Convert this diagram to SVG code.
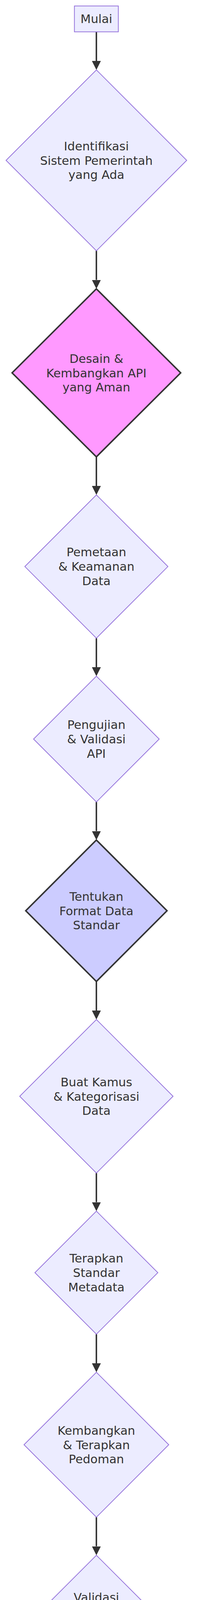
<svg xmlns="http://www.w3.org/2000/svg" width="510" height="4582" viewBox="0 0 510 4582">
<style>
  .node { fill: #ECECFF; stroke: #9370DB; stroke-width: 1.9; }
  .pink { fill: #FF99FF; stroke: #333333; stroke-width: 3.8; }
  .blue { fill: #CCCCFF; stroke: #333333; stroke-width: 3.8; }
  .lbl { font-family: "DejaVu Sans", "Noto Sans", sans-serif; font-size: 30.5px; fill: #333333; text-anchor: middle; }
  .edge { stroke: #333333; stroke-width: 3.8; fill: none; }
</style>
<defs>
  <marker id="arrow" viewBox="0 0 10 10" refX="0" refY="5" markerUnits="userSpaceOnUse" markerWidth="23" markerHeight="23" orient="auto">
    <path d="M0,0 L10,5 L0,10 z" fill="#333333"/>
  </marker>
</defs>
<rect width="510" height="4582" fill="#ffffff"/>
<g id="connectors">
  <path class="edge" d="M247,81.5 L247,156" marker-end="url(#arrow)"/>
  <path class="edge" d="M247,642 L247,716.5" marker-end="url(#arrow)"/>
  <path class="edge" d="M247,1169.5 L247,1244" marker-end="url(#arrow)"/>
  <path class="edge" d="M247,1633.6 L247,1708" marker-end="url(#arrow)"/>
  <path class="edge" d="M247,2053 L247,2127.5" marker-end="url(#arrow)"/>
  <path class="edge" d="M247,2512.5 L247,2587" marker-end="url(#arrow)"/>
  <path class="edge" d="M247,3003 L247,3077.5" marker-end="url(#arrow)"/>
  <path class="edge" d="M247,3415.5 L247,3490" marker-end="url(#arrow)"/>
  <path class="edge" d="M247,3884 L247,3958.5" marker-end="url(#arrow)"/>
  <path class="edge" d="M247,4269.5 L247,4344" marker-end="url(#arrow)"/>
</g>
<g id="mulai">
  <rect class="node" x="190.7" y="15.3" width="112.6" height="66.2"/>
  <text class="lbl" x="247" y="59.3">Mulai</text>
</g>
<g id="identifikasi">
  <polygon class="node" points="247,179 478.5,410.5 247,642 15.5,410.5"/>
  <text class="lbl" x="247" y="384.5">Identifikasi</text>
  <text class="lbl" x="247" y="421.5">Sistem Pemerintah</text>
  <text class="lbl" x="247" y="458">yang Ada</text>
</g>
<g id="desain">
  <polygon class="pink" points="247,739.5 463,954.5 247,1169.5 31,954.5"/>
  <text class="lbl" x="247" y="928.5">Desain &amp;</text>
  <text class="lbl" x="247" y="965.5">Kembangkan API</text>
  <text class="lbl" x="247" y="1002">yang Aman</text>
</g>
<g id="pemetaan">
  <polygon class="node" points="247,1267 430.3,1450.3 247,1633.6 63.7,1450.3"/>
  <text class="lbl" x="247" y="1424.3">Pemetaan</text>
  <text class="lbl" x="247" y="1461.3">&amp; Keamanan</text>
  <text class="lbl" x="247" y="1498">Data</text>
</g>
<g id="pengujian">
  <polygon class="node" points="247,1731 408,1892 247,2053 86,1892"/>
  <text class="lbl" x="247" y="1866">Pengujian</text>
  <text class="lbl" x="247" y="1903">&amp; Validasi</text>
  <text class="lbl" x="247" y="1939.7">API</text>
</g>
<g id="format">
  <polygon class="blue" points="247,2150.5 428,2331.5 247,2512.5 66,2331.5"/>
  <text class="lbl" x="247" y="2305.5">Tentukan</text>
  <text class="lbl" x="247" y="2342.5">Format Data</text>
  <text class="lbl" x="247" y="2379.2">Standar</text>
</g>
<g id="kamus">
  <polygon class="node" points="247,2610 443.5,2806.5 247,3003 50.5,2806.5"/>
  <text class="lbl" x="247" y="2780.5">Buat Kamus</text>
  <text class="lbl" x="247" y="2817.5">&amp; Kategorisasi</text>
  <text class="lbl" x="247" y="2854.2">Data</text>
</g>
<g id="metadata">
  <polygon class="node" points="247,3100.5 404.5,3258 247,3415.5 89.5,3258"/>
  <text class="lbl" x="247" y="3232">Terapkan</text>
  <text class="lbl" x="247" y="3269">Standar</text>
  <text class="lbl" x="247" y="3305.7">Metadata</text>
</g>
<g id="pedoman">
  <polygon class="node" points="247,3513 432.5,3698.5 247,3884 61.5,3698.5"/>
  <text class="lbl" x="247" y="3672.5">Kembangkan</text>
  <text class="lbl" x="247" y="3709.5">&amp; Terapkan</text>
  <text class="lbl" x="247" y="3746.2">Pedoman</text>
</g>
<g id="validasi">
  <polygon class="node" points="247,3981.5 391,4125.5 247,4269.5 103,4125.5"/>
  <text class="lbl" x="247" y="4099.5">Validasi</text>
  <text class="lbl" x="247" y="4136.5">API &amp;</text>
  <text class="lbl" x="247" y="4173.2">Data</text>
</g>
<g id="selesai">
  <rect class="node" x="103.7" y="4367" width="286.3" height="66"/>
  <text class="lbl" x="247" y="4410.8">Integrasi Selesai</text>
</g>
</svg>
